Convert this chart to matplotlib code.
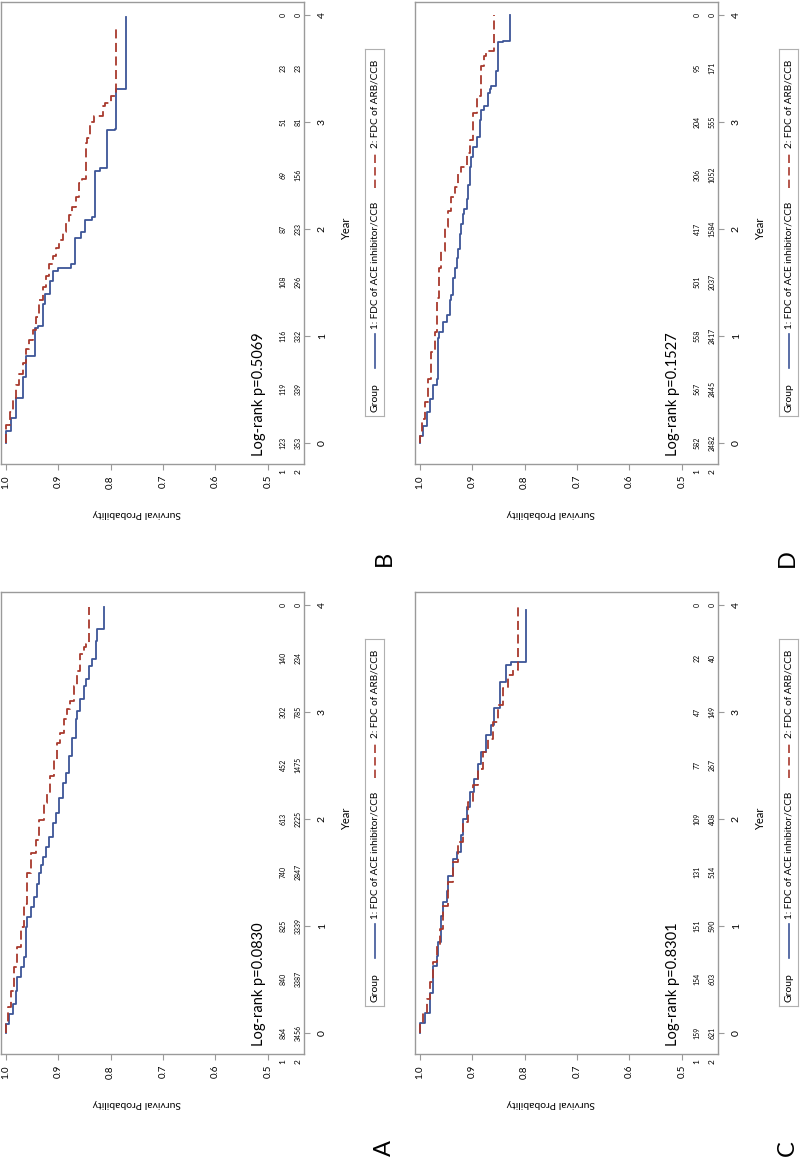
import matplotlib.pyplot as plt

plt.rcParams['font.family'] = ['Lato', 'DejaVu Sans']

W, H = 800, 1163

blue = "#3d5597"
red = "#a8392d"
frame_col = "#9a9a9a"

risk_years = [0, 0.5, 1, 1.5, 2, 2.5, 3, 3.5, 4]
surv_ticks = [1.0, 0.9, 0.8, 0.7, 0.6, 0.5]
year_ticks = [0, 1, 2, 3, 4]

# panel A
a_t1 = [0, 0.078, 0.172, 0.266, 0.392, 0.517, 0.611, 0.705, 0.987, 1.081, 1.175, 1.269, 1.394,
        1.488, 1.566, 1.644, 1.738, 1.832, 1.958, 2.052, 2.193, 2.334, 2.428, 2.584, 2.756,
        2.929, 3.007, 3.117, 3.242, 3.305, 3.430, 3.492, 3.665, 3.774, 3.978]
a_s1 = [1.0, 0.994, 0.987, 0.981, 0.978, 0.972, 0.965, 0.962, 0.959, 0.953, 0.946, 0.940, 0.937,
        0.934, 0.930, 0.924, 0.918, 0.911, 0.905, 0.899, 0.892, 0.886, 0.880, 0.873, 0.867,
        0.864, 0.858, 0.851, 0.848, 0.842, 0.835, 0.829, 0.826, 0.813, 0.813]
a_t2 = [0, 0.078, 0.235, 0.392, 0.611, 0.799, 0.987, 1.206, 1.488, 1.676, 1.801, 1.989, 2.146,
        2.240, 2.396, 2.553, 2.709, 2.803, 2.929, 3.023, 3.101, 3.242, 3.383, 3.539, 3.602,
        3.634, 3.978]
a_s2 = [1.0, 0.997, 0.991, 0.984, 0.978, 0.972, 0.965, 0.959, 0.953, 0.943, 0.937, 0.927, 0.921,
        0.915, 0.908, 0.902, 0.896, 0.889, 0.883, 0.877, 0.870, 0.864, 0.858, 0.851, 0.848,
        0.842, 0.842]
a_risk1 = [864, 840, 825, 740, 613, 452, 302, 140, 0]
a_risk2 = [3456, 3387, 3339, 2847, 2225, 1475, 785, 234, 0]
a_p = "0.0830"

# panel B
b_t1 = [0, 0.107, 0.229, 0.413, 0.612, 0.810, 1.070, 1.086, 1.300, 1.391, 1.514, 1.606, 1.636,
        1.667, 1.911, 1.972, 2.080, 2.110, 2.538, 2.569, 2.920, 2.936, 3.303, 3.976]
b_s1 = [1.0, 0.991, 0.980, 0.967, 0.961, 0.945, 0.938, 0.929, 0.926, 0.916, 0.910, 0.900, 0.875,
        0.868, 0.856, 0.849, 0.836, 0.830, 0.820, 0.808, 0.792, 0.789, 0.770, 0.770]
b_t2 = [0, 0.168, 0.290, 0.413, 0.535, 0.642, 0.749, 0.872, 0.963, 1.055, 1.177, 1.330, 1.453,
        1.560, 1.667, 1.743, 1.820, 1.896, 1.972, 2.049, 2.125, 2.202, 2.294, 2.431, 2.462,
        2.798, 2.844, 2.997, 3.058, 3.150, 3.180, 3.242, 3.272, 3.869]
b_s2 = [1.0, 0.993, 0.987, 0.981, 0.975, 0.968, 0.962, 0.956, 0.949, 0.943, 0.937, 0.930, 0.924,
        0.918, 0.911, 0.905, 0.898, 0.891, 0.885, 0.879, 0.873, 0.867, 0.861, 0.854, 0.848,
        0.845, 0.839, 0.831, 0.815, 0.810, 0.800, 0.792, 0.789, 0.789]
b_risk1 = [123, 119, 116, 108, 87, 69, 51, 23, 0]
b_risk2 = [353, 339, 332, 296, 233, 156, 81, 23, 0]
b_p = "0.5069"

# panel C
c_t1 = [0, 0.094, 0.188, 0.375, 0.625, 0.719, 0.844, 1.094, 1.219, 1.328, 1.469, 1.625, 1.688,
        1.844, 2.000, 2.109, 2.250, 2.375, 2.516, 2.625, 2.781, 2.875, 3.031, 3.281, 3.438,
        3.469, 3.953]
c_s1 = [1.0, 0.991, 0.981, 0.975, 0.968, 0.965, 0.959, 0.956, 0.949, 0.946, 0.937, 0.930, 0.921,
        0.918, 0.911, 0.905, 0.896, 0.889, 0.883, 0.873, 0.864, 0.858, 0.848, 0.835, 0.826,
        0.797, 0.797]
c_t2 = [0, 0.094, 0.188, 0.313, 0.469, 0.656, 0.813, 0.969, 1.188, 1.406, 1.594, 1.781, 1.969,
        2.156, 2.313, 2.469, 2.625, 2.750, 2.906, 3.063, 3.219, 3.344, 3.391, 4.0]
c_s2 = [1.0, 0.994, 0.987, 0.981, 0.975, 0.968, 0.962, 0.956, 0.946, 0.937, 0.927, 0.918, 0.908,
        0.899, 0.889, 0.880, 0.870, 0.861, 0.851, 0.842, 0.832, 0.823, 0.813, 0.813]
c_risk1 = [159, 154, 151, 131, 109, 77, 47, 22, 0]
c_risk2 = [621, 603, 590, 514, 408, 267, 149, 40, 0]
c_p = "0.8301"

# panel D
d_t1 = [0, 0.063, 0.157, 0.283, 0.409, 0.535, 0.597, 0.975, 1.038, 1.132, 1.195, 1.336, 1.384,
        1.541, 1.635, 1.730, 1.808, 1.950, 2.044, 2.138, 2.186, 2.280, 2.406, 2.579, 2.673,
        2.767, 2.862, 3.019, 3.113, 3.145, 3.270, 3.302, 3.333, 3.475, 3.742, 3.758, 3.994]
d_s1 = [1.0, 0.994, 0.987, 0.981, 0.975, 0.968, 0.965, 0.963, 0.956, 0.949, 0.943, 0.940, 0.937,
        0.934, 0.930, 0.927, 0.924, 0.921, 0.918, 0.915, 0.911, 0.908, 0.905, 0.902, 0.899,
        0.892, 0.886, 0.883, 0.877, 0.870, 0.867, 0.864, 0.854, 0.851, 0.842, 0.829, 0.829]
d_t2 = [0, 0.063, 0.220, 0.377, 0.597, 0.849, 1.038, 1.352, 1.635, 1.792, 2.013, 2.170, 2.296,
        2.390, 2.516, 2.579, 2.704, 2.830, 3.082, 3.239, 3.522, 3.616, 3.663, 3.994]
d_s2 = [1.0, 0.997, 0.991, 0.984, 0.978, 0.972, 0.968, 0.963, 0.959, 0.953, 0.946, 0.940, 0.934,
        0.927, 0.921, 0.911, 0.905, 0.899, 0.892, 0.883, 0.877, 0.873, 0.858, 0.858]
d_risk1 = [582, 567, 558, 501, 417, 306, 204, 95, 0]
d_risk2 = [2482, 2445, 2417, 2037, 1584, 1052, 555, 171, 0]
d_p = "0.1527"

legend1 = "1: FDC of ACE inhibitor/CCB"
legend2 = "2: FDC of ARB/CCB"

fig = plt.figure(figsize=(W / 100, H / 100), dpi=100)

FW, FH = 303, 462  # frame size in pixels


def panel(letter, x0, y0, t1, s1, t2, s2, risk1, risk2, pval):
    ax = fig.add_axes([x0 / W, 1 - (y0 + FH) / H, FW / W, FH / H])
    ax.step(s1, t1, where="pre", color=blue, lw=1.3)
    ax.step(s2, t2, where="pre", color=red, lw=1.3, dashes=(5, 2.5))
    ax.set_xlim(1.0095, 0.431)
    ax.set_ylim(-0.2, 4.12)

    for sp in ax.spines.values():
        sp.set_color(frame_col)
        sp.set_linewidth(1)

    ax.set_xticks(surv_ticks)
    ax.set_xticklabels([f"{v:.1f}" for v in surv_ticks])
    ax.tick_params(axis="x", direction="out", length=4.5, width=0.8, color=frame_col,
                   pad=3.5, labelsize=7, labelrotation=90)
    ax.yaxis.tick_right()
    ax.set_yticks(year_ticks)
    ax.tick_params(axis="y", direction="out", length=4.5, width=0.8, color=frame_col,
                   pad=5.5, labelsize=7.5, labelrotation=90)
    for lab in ax.get_yticklabels():
        lab.set_va("center")

    # number at risk, inside the frame
    for yr, n1, n2 in zip(risk_years, risk1, risk2):
        ax.text(0.471, yr, str(n1), rotation=90, ha="center", va="center", fontsize=5)
        ax.text(0.442, yr, str(n2), rotation=90, ha="center", va="center", fontsize=5)
    xt = ax.get_xaxis_transform()
    ax.text(0.471, -0.012, "1", transform=xt, rotation=90, ha="center", va="top", fontsize=6)
    ax.text(0.442, -0.012, "2", transform=xt, rotation=90, ha="center", va="top", fontsize=6)

    ax.text(0.517, -0.125, "Log-rank p=" + pval, rotation=90, ha="center", va="bottom",
            fontsize=10.5)

    ax.text(0.75, -0.108, "Survival Probability", transform=xt, rotation=180,
            ha="center", va="center", fontsize=7.5)
    ax.text(1 + 43 / FW, 2.0, "Year", transform=ax.get_yaxis_transform(), rotation=90,
            ha="center", va="center", fontsize=8)

    # legend drawn by hand, rotated
    lg = fig.add_axes([(x0 + 364) / W, 1 - (y0 + 47 + 367) / H, 19 / W, 367 / H])
    lg.set_xlim(0, 1)
    lg.set_ylim(0, 367)
    lg.set_xticks([])
    lg.set_yticks([])
    for sp in lg.spines.values():
        sp.set_color("#b0b0b0")
        sp.set_linewidth(0.8)
    lg.text(0.5, 4, "Group", rotation=90, ha="center", va="bottom", fontsize=7.5)
    lg.plot([0.5, 0.5], [48, 82], color=blue, lw=1.2)
    lg.text(0.5, 87, legend1, rotation=90, ha="center", va="bottom", fontsize=7.2)
    lg.plot([0.5, 0.5], [228, 262], color=red, lw=1.2, dashes=(5, 2.5))
    lg.text(0.5, 268, legend2, rotation=90, ha="center", va="bottom", fontsize=7.2)

    fig.text(min((x0 + 394) / W, 798 / W), 1 - (y0 + 556) / H, letter, rotation=90,
             ha="right", va="center", fontsize=17)


panel("B", 1, 2, b_t1, b_s1, b_t2, b_s2, b_risk1, b_risk2, b_p)
panel("D", 415, 2, d_t1, d_s1, d_t2, d_s2, d_risk1, d_risk2, d_p)
panel("A", 1, 592, a_t1, a_s1, a_t2, a_s2, a_risk1, a_risk2, a_p)
panel("C", 415, 592, c_t1, c_s1, c_t2, c_s2, c_risk1, c_risk2, c_p)

fig.savefig("out.png", dpi=100, facecolor="white")
